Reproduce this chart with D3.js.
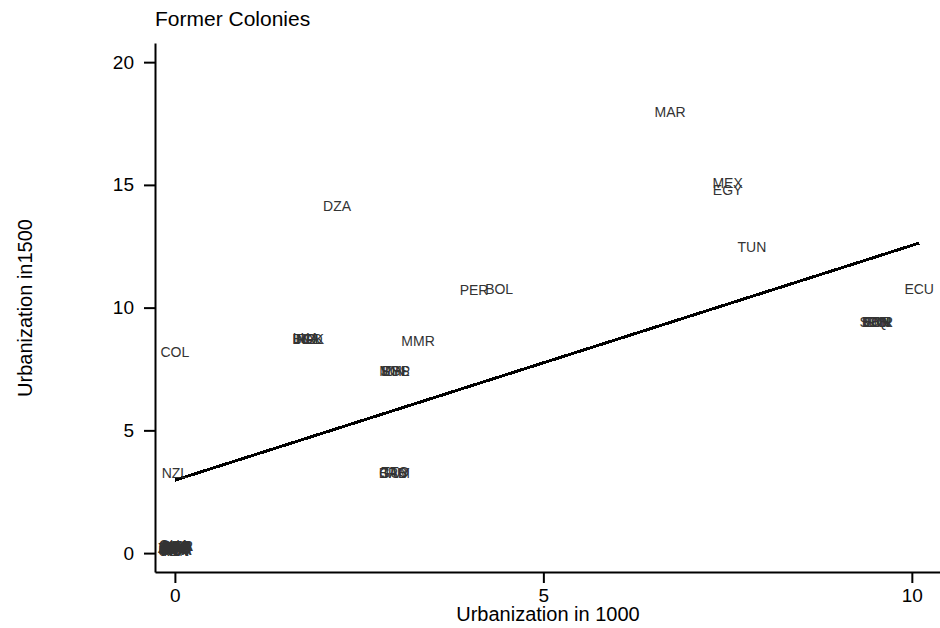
<!DOCTYPE html>
<html>
<meta charset="utf-8">
<style>
  body { margin: 0; background: #fff; }
  text { font-family: Arial, "Liberation Sans", sans-serif; }
  .lbl { font-size: 14px; fill: #333; }
  .axis path, .axis line { stroke: #000; stroke-width: 2; }
  .axis text { font-size: 19px; fill: #000; }
</style>
<body>
<script src="https://cdn.jsdelivr.net/npm/d3@7"></script>
<script>
// country codes with urbanization in 1000 and in 1500
var codes   = ["MAR","MEX","EGY","TUN","DZA","PER","BOL","ECU","COL","NZL","MMR",
               "IND","BGD","PAK","LKA","NPL",
               "IDN","MYS","PHL","SGP",
               "BRB","GUY","JAM","TTO",
               "SDN","ETH","LBN","SYR","IRQ","JOR",
               "USA","CAN","AUS","AGO","BEN","CMR","GHA","KEN","NGA","SEN","ZAF",
               "MLI","NER","TZA","UGA","ZMB","ZWE","MOZ","BWA","MWI","CAF"];
var urb1000 = [6.72,7.50,7.50,7.83,2.20,4.06,4.40,10.10,0.00,0.00,3.30,
               1.76,1.80,1.84,1.78,1.82,
               2.96,2.98,3.00,2.99,
               2.96,2.98,3.00,2.99,
               9.49,9.51,9.53,9.55,9.50,9.54,
               -0.03,-0.02,0.00,0.01,0.02,0.03,-0.01,0.00,0.02,-0.02,0.01,
               -0.03,0.03,-0.01,0.01,0.02,-0.02,0.00,0.03,-0.03,0.01];
var urb1500 = [17.96,15.07,14.80,12.46,14.13,10.71,10.75,10.75,8.19,3.26,8.64,
               8.72,8.72,8.70,8.74,8.71,
               7.41,7.42,7.40,7.43,
               3.26,3.27,3.25,3.28,
               9.41,9.40,9.42,9.41,9.43,9.39,
               0.08,0.12,0.16,0.20,0.24,0.28,0.32,0.10,0.14,0.18,0.22,
               0.26,0.30,0.09,0.13,0.17,0.21,0.25,0.29,0.15,0.23];

// fitted values of the regression line
var fitX = [0, 10.1];
var fitY = [2.97, 12.63];

var xTicks = [0, 5, 10];
var yTicks = [0, 5, 10, 15, 20];

var width = 940, height = 628;

var svg = d3.select("body").append("svg")
    .attr("width", width)
    .attr("height", height);

var x = d3.scaleLinear().domain([-0.27, 10.45]).range([155, 945]);
var y = d3.scaleLinear().domain([-0.77, 20.78]).range([572, 43]);

// axes
svg.append("g")
    .attr("class", "axis")
    .attr("transform", "translate(0,572)")
    .call(d3.axisBottom(x).tickValues(xTicks).tickSize(11).tickPadding(6).tickSizeOuter(0).tickFormat(d3.format("d")));

svg.append("g")
    .attr("class", "axis")
    .attr("transform", "translate(155,0)")
    .call(d3.axisLeft(y).tickValues(yTicks).tickSize(11).tickPadding(10).tickSizeOuter(0).tickFormat(d3.format("d")));

// regression line
var line = d3.line()
    .x(function(d, i) { return x(fitX[i]); })
    .y(function(d, i) { return y(fitY[i]); });

svg.append("path")
    .datum(fitX)
    .attr("d", line)
    .attr("fill", "none")
    .attr("stroke", "#000")
    .attr("stroke-width", 3)
    .attr("shape-rendering", "crispEdges");

// country labels
svg.append("g")
  .selectAll("text")
    .data(codes)
  .enter().append("text")
    .attr("class", "lbl")
    .attr("x", function(d, i) { return x(urb1000[i]); })
    .attr("y", function(d, i) { return y(urb1500[i]); })
    .attr("dy", "0.35em")
    .attr("text-anchor", "middle")
    .text(function(d) { return d; });

// titles
svg.append("text")
    .attr("x", 155)
    .attr("y", 26)
    .style("font-size", "21px")
    .text("Former Colonies");

svg.append("text")
    .attr("x", 548)
    .attr("y", 621)
    .attr("text-anchor", "middle")
    .style("font-size", "20px")
    .text("Urbanization in 1000");

svg.append("text")
    .attr("transform", "translate(32,308) rotate(-90)")
    .attr("text-anchor", "middle")
    .style("font-size", "20px")
    .text("Urbanization in1500");
</script>
</body>
</html>
